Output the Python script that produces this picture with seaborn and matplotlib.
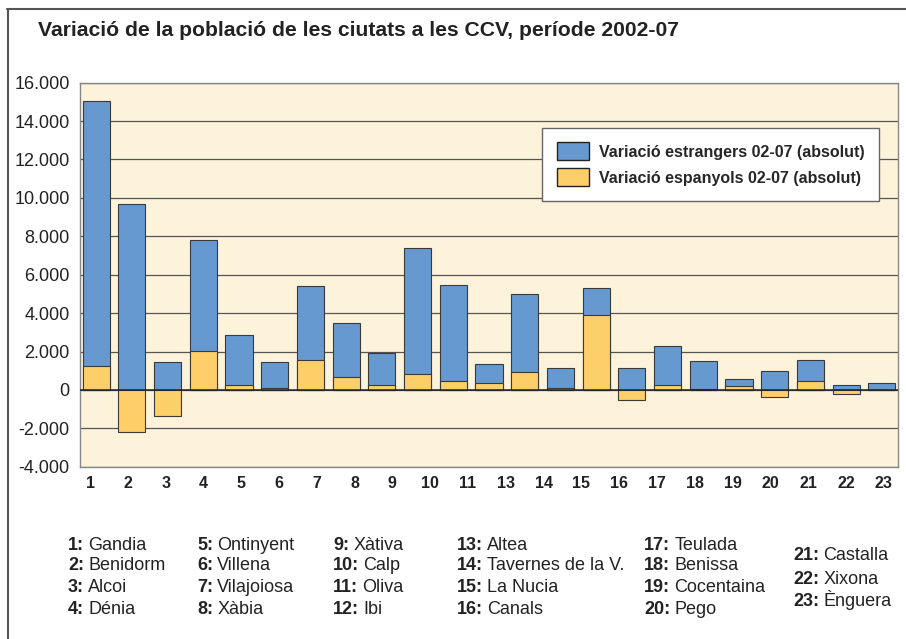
import numpy as np
import pandas as pd
import seaborn as sns
import matplotlib.pyplot as plt
from matplotlib.lines import Line2D
from matplotlib.patches import Patch
from matplotlib.ticker import FuncFormatter

# data
cities = ["Gandia", "Benidorm", "Alcoi", "Dénia", "Ontinyent", "Villena", "Vilajoiosa", "Xàbia",
          "Xàtiva", "Calp", "Oliva", "Ibi", "Altea", "Tavernes de la V.", "La Nucia", "Canals",
          "Teulada", "Benissa", "Cocentaina", "Pego", "Castalla", "Xixona", "Ènguera"]
estrangers = [13820, 9680, 1470, 5760, 2600, 1370, 3820, 2850, 1670, 6570, 4990, 1010,
              4050, 1040, 1390, 1130, 2020, 1420, 340, 1010, 1110, 260, 350]
espanyols = [1230, -2190, -1380, 2050, 260, 90, 1570, 650, 260, 820, 450, 360,
             920, 90, 3900, -500, 260, 60, 210, -390, 450, -220, 10]
# the original axis skips "12"
x_labels = ["1", "2", "3", "4", "5", "6", "7", "8", "9", "10", "11",
            "13", "14", "15", "16", "17", "18", "19", "20", "21", "22", "23"]
y_ticks = [-4000, -2000, 0, 2000, 4000, 6000, 8000, 10000, 12000, 14000, 16000]
legend_labels = ["Variació estrangers 02-07 (absolut)", "Variació espanyols 02-07 (absolut)"]
title = "Variació de la població de les ciutats a les CCV, període 2002-07"

blue = "#6699D0"
yellow = "#FDCF69"
bg = "#FDF2DA"
edge = "#3a3a3a"

sns.set_style("white")
plt.rcParams["font.family"] = ["Liberation Sans", "DejaVu Sans"]

df = pd.DataFrame({"num": [str(i + 1) for i in range(len(cities))],
                   "estrangers": estrangers, "espanyols": espanyols})
# foreigners stack on top of the positive part of the Spanish change
df["total"] = df["espanyols"].clip(lower=0) + df["estrangers"]

W, H = 906, 639
fig = plt.figure(figsize=(W / 100, H / 100), dpi=100)
ax = fig.add_axes([80 / W, 1 - 466.7 / H, (898 - 80) / W, (466.7 - 82.7) / H])
ax.set_facecolor(bg)

sns.barplot(data=df, x="num", y="total", color=blue, saturation=1, width=0.76,
            edgecolor=edge, linewidth=0.8, ax=ax, zorder=2)
sns.barplot(data=df, x="num", y="espanyols", color=yellow, saturation=1, width=0.76,
            edgecolor=edge, linewidth=0.8, ax=ax, zorder=3)

ax.set_xlim(-0.45, len(cities) - 0.55)
ax.set_ylim(y_ticks[0], y_ticks[-1])
ax.set_yticks(y_ticks)
ax.yaxis.set_major_formatter(FuncFormatter(lambda v, p: f"{int(v):,}".replace(",", ".")))
ax.set_xticks(np.linspace(-0.17, 22.05, len(x_labels)))
ax.set_xticklabels(x_labels, fontweight="bold", fontsize=11.5, color="#222222")
ax.tick_params(axis="x", length=0, pad=7)
ax.tick_params(axis="y", length=0, pad=7.5, labelsize=13, labelcolor="#222222")
ax.set_xlabel("")
ax.set_ylabel("")

ax.set_axisbelow(True)
ax.yaxis.grid(True, color="#555555", linewidth=0.9)
ax.xaxis.grid(False)
ax.axhline(0, color="#222222", linewidth=1.1, zorder=4)
for s in ax.spines.values():
    s.set_visible(True)
    s.set_color("#888888")
    s.set_linewidth(1.0)

handles = [Patch(facecolor=blue, edgecolor="#222222", linewidth=1.0),
           Patch(facecolor=yellow, edgecolor="#222222", linewidth=1.0)]
leg = ax.legend(handles, legend_labels, loc="upper right",
                bbox_to_anchor=(879 / W, 1 - 128 / H), bbox_transform=fig.transFigure,
                borderaxespad=0, fancybox=False, framealpha=1, edgecolor="#666666",
                handlelength=2.05, handleheight=1.35, labelspacing=0.5, borderpad=0.9,
                handletextpad=0.6, prop={"weight": "bold", "size": 11.5})
leg.get_frame().set_linewidth(1.0)

fig.text(38 / W, 1 - 30 / H, title, fontsize=15.2, fontweight="bold", color="#222222", va="center")

# outer frame: top and left edges only
fig.add_artist(Line2D([7 / W, 1], [1 - 9 / H, 1 - 9 / H], color="#555555", linewidth=1.5,
                      transform=fig.transFigure))
fig.add_artist(Line2D([7.5 / W, 7.5 / W], [0, 1 - 9 / H], color="#555555", linewidth=1.5,
                      transform=fig.transFigure))

# key of city names under the chart
col_sizes = [4, 4, 4, 4, 4, 3]
col_x = [68, 197, 333, 457, 644, 793]
idx = 0
for c, n in enumerate(col_sizes):
    if n == 3:
        rows_y = [556, 579, 602]
    else:
        rows_y = [545, 566, 588, 609]
    for r in range(n):
        t = fig.text(col_x[c] / W, 1 - rows_y[r] / H, f"{idx + 1}:", fontsize=13,
                     fontweight="bold", color="#222222", va="center")
        ax.annotate(cities[idx], xy=(1, 0), xycoords=t, xytext=(3.0, 0),
                    textcoords="offset points", va="bottom", ha="left", fontsize=13,
                    color="#222222", annotation_clip=False)
        idx += 1

fig.savefig("out.png", dpi=100, facecolor="white")
